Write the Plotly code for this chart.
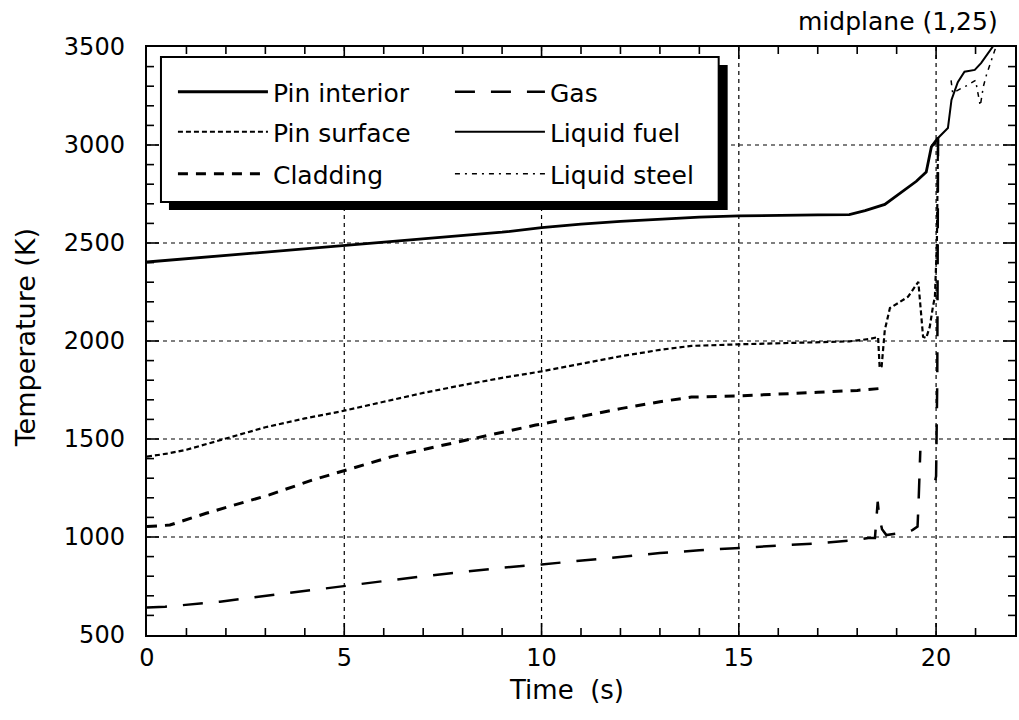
import plotly.graph_objects as go

# ---------------- data ----------------
pin_interior_t = [0, 1, 2, 3, 4, 5, 6, 7, 8, 9, 10, 11, 12, 13, 14, 15, 16, 17, 17.8,
                  18.2, 18.7, 19.1, 19.5, 19.75, 19.82, 19.88, 20.05]
pin_interior_T = [2403, 2420, 2437, 2453, 2470, 2488, 2505, 2521, 2537, 2555, 2578, 2596,
                  2610, 2622, 2632, 2638, 2642, 2643, 2645, 2665, 2697, 2758, 2815, 2862,
                  2930, 2990, 3036]

pin_surface_t = [0, 0.5, 1, 1.9, 3, 4, 4.9, 6, 7, 8, 9, 10, 11, 12, 13, 13.8, 15, 16, 17,
                 17.8, 18.3, 18.53, 18.57, 18.62, 18.7, 18.83, 19.04, 19.29, 19.55, 19.6,
                 19.67, 19.75, 19.84, 19.92, 19.97, 20.02, 20.05]
pin_surface_T = [1410, 1425, 1445, 1495, 1560, 1605, 1640, 1690, 1735, 1775, 1812, 1845,
                 1885, 1922, 1955, 1975, 1983, 1988, 1993, 1998, 2010, 2020, 1862, 1870,
                 2056, 2168, 2194, 2226, 2302, 2200, 2022, 2015, 2073, 2175, 2226, 2500, 3040]

cladding_t = [0, 0.58, 1.5, 2, 3.1, 4.2, 4.9, 6.2, 7.9, 9.85, 11, 12, 13, 13.8, 15, 16, 17,
              18, 18.6]
cladding_T = [1053, 1061, 1121, 1150, 1215, 1291, 1333, 1410, 1486, 1571, 1615, 1655, 1690,
              1714, 1720, 1728, 1738, 1748, 1758]

gas_t = [0, 0.46, 1.85, 3, 4, 5, 6, 7, 8, 9, 10, 11, 12, 13, 14, 15, 16, 17, 18, 18.28,
         18.45, 18.52, 18.56, 18.63, 18.74, 19.1, 19.4, 19.53, 19.56, 19.58, 19.6, None,
         19.98, 20.0, 20.03, 20.05]
gas_T = [640, 644, 670, 700, 725, 750, 775, 800, 822, 843, 860, 880, 900, 918, 932, 944,
         956, 968, 985, 995, 995, 1180, 1100, 1040, 1010, 1020, 1035, 1053, 1200, 1300,
         1440, None, 1290, 1310, 1800, 3040]

liquid_fuel_t = [19.95, 20.05, 20.3, 20.39, 20.55, 20.72, 20.98, 21.14, 21.5]
liquid_fuel_T = [3000, 3036, 3087, 3230, 3320, 3374, 3383, 3418, 3520]

liquid_steel_t = [20.38, 20.42, 20.6, 20.8, 21.0, 21.05, 21.12, 21.2, 21.28, 21.55]
liquid_steel_T = [3330, 3265, 3285, 3305, 3330, 3280, 3200, 3300, 3360, 3520]

x_range = [0, 22]
y_range = [500, 3500]
grid_x = [5, 10, 15, 20]
grid_y = [1000, 1500, 2000, 2500, 3000]
x_tick_marks = list(range(1, 22))            # every second
y_tick_marks = list(range(600, 3500, 100))   # every 100 K

# ---------------- layout helpers (pixel -> paper) ----------------
W, H = 1019, 720
L, R, T, B = 147, 2, 47, 85
PW, PH = W - L - R, H - T - B


def px(x):
    return (x - L) / PW


def py(y):
    return 1 - (y - T) / PH


FONT = "DejaVu Sans, Verdana, Arial, sans-serif"
NB = "\u00a0"

fig = go.Figure()

series = [
    ("Pin interior", pin_interior_t, pin_interior_T, dict(color="black", width=2.8, dash="solid"), "legend"),
    ("Gas", gas_t, gas_T, dict(color="black", width=2.5, dash="20px,16px"), "legend"),
    ("Pin surface", pin_surface_t, pin_surface_T, dict(color="black", width=2.2, dash="5px,3px"), "legend2"),
    ("Liquid fuel", liquid_fuel_t, liquid_fuel_T, dict(color="black", width=2, dash="solid"), "legend2"),
    ("Cladding", cladding_t, cladding_T, dict(color="black", width=3, dash="10px,8px"), "legend3"),
    ("Liquid steel", liquid_steel_t, liquid_steel_T, dict(color="black", width=1.5, dash="5px,5px,2px,5px"), "legend3"),
]
for name, xs, ys, ln, lg in series:
    fig.add_trace(go.Scatter(x=xs, y=ys, mode="lines", name=name, line=ln,
                             legend=lg, connectgaps=False))

legend_common = dict(
    orientation="h", xanchor="left", yanchor="middle", x=px(173),
    bgcolor="rgba(0,0,0,0)", borderwidth=0, itemwidth=90,
    entrywidth=172, font=dict(family=FONT, size=25, color="black"),
    itemclick=False, itemdoubleclick=False,
)
row_y = [92, 132, 174]

axis_common = dict(
    showline=True, linecolor="black", linewidth=2, mirror=True,
    ticks="", showgrid=False, zeroline=False,
    tickfont=dict(family=FONT, size=24, color="black"),
)

grid_line = dict(color="black", width=1.2, dash="4px,4px")
shapes = []
for gx in grid_x:
    shapes.append(dict(type="line", xref="x", yref="paper", x0=gx, x1=gx, y0=0, y1=1,
                       layer="below", line=grid_line))
for gy in grid_y:
    shapes.append(dict(type="line", xref="paper", yref="y", x0=0, x1=1, y0=gy, y1=gy,
                       layer="below", line=grid_line))

# tick marks on all four sides (inside), major every 5 s / 500 K
tick_line = dict(color="black", width=1.6)
for tx in x_tick_marks:
    ln = 12 if tx % 5 == 0 else 7
    shapes.append(dict(type="line", xref="x", yref="paper", x0=tx, x1=tx,
                       y0=0, y1=ln / PH, layer="above", line=tick_line))
    shapes.append(dict(type="line", xref="x", yref="paper", x0=tx, x1=tx,
                       y0=1 - ln / PH, y1=1, layer="above", line=tick_line))
for ty in y_tick_marks:
    ln = 12 if ty % 500 == 0 else 7
    shapes.append(dict(type="line", xref="paper", yref="y", x0=0, x1=ln / PW,
                       y0=ty, y1=ty, layer="above", line=tick_line))
    shapes.append(dict(type="line", xref="paper", yref="y", x0=1 - ln / PW, x1=1,
                       y0=ty, y1=ty, layer="above", line=tick_line))

# legend frame with drop shadow
shapes += [
    dict(type="rect", xref="paper", yref="paper", layer="above",
         x0=px(169), x1=px(729), y0=py(210), y1=py(65),
         fillcolor="black", line=dict(width=0)),
    dict(type="rect", xref="paper", yref="paper", layer="above",
         x0=px(161), x1=px(720), y0=py(202), y1=py(57),
         fillcolor="white", line=dict(color="black", width=2)),
]

fig.update_layout(
    width=W, height=H,
    margin=dict(l=L, r=R, t=T, b=B),
    paper_bgcolor="white", plot_bgcolor="white",
    showlegend=True,
    legend=dict(**legend_common, y=py(row_y[0])),
    legend2=dict(**legend_common, y=py(row_y[1])),
    legend3=dict(**legend_common, y=py(row_y[2])),
    xaxis=dict(**axis_common, range=x_range, dtick=5),
    yaxis=dict(**axis_common, range=y_range, dtick=500, ticksuffix=NB * 2),
    shapes=shapes,
    annotations=[
        dict(text="midplane (1,25)", xref="paper", yref="paper", x=px(1002), y=py(22),
             xanchor="right", yanchor="middle", showarrow=False,
             font=dict(family=FONT, size=25, color="black")),
        dict(text="Time" + NB * 2 + "(s)", xref="paper", yref="paper", x=px(567), y=py(690),
             xanchor="center", yanchor="middle", showarrow=False,
             font=dict(family=FONT, size=26, color="black")),
        dict(text="Temperature (K)", xref="paper", yref="paper", x=px(25), y=py(338),
             xanchor="center", yanchor="middle", showarrow=False, textangle=-90,
             font=dict(family=FONT, size=27, color="black")),
    ],
)

fig.write_html("out.html")
